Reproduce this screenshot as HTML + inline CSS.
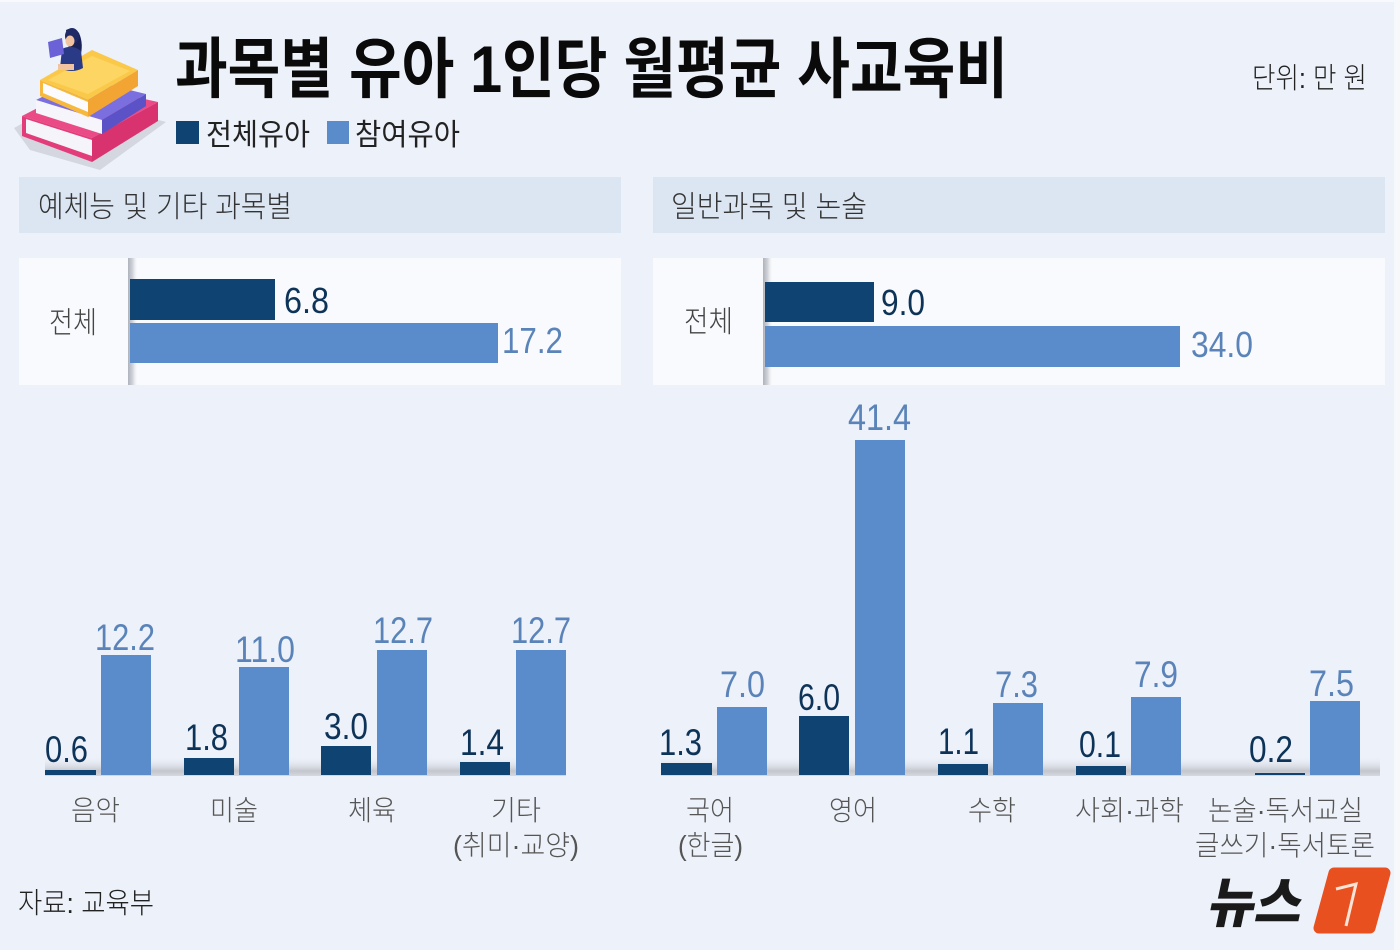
<!DOCTYPE html>
<html><head><meta charset="utf-8">
<style>
html,body{margin:0;padding:0;background:#edf1f9;}
svg{display:block;}
.k{font-family:"Liberation Sans","Noto Sans CJK KR",sans-serif;}
.kl{font-family:"Liberation Sans","Noto Sans CJK KR",sans-serif;font-weight:300;}
.n{font-family:"Liberation Sans","DejaVu Sans",sans-serif;}
</style></head>
<body>
<svg width="1400" height="950" viewBox="0 0 1400 950" xmlns="http://www.w3.org/2000/svg">
<defs>
<linearGradient id="ax" x1="0" y1="0" x2="1" y2="0">
<stop offset="0" stop-color="#aeb2ba"/><stop offset="0.5" stop-color="#d4d7dd"/><stop offset="1" stop-color="#f8fafd" stop-opacity="0"/>
</linearGradient>
<linearGradient id="bs" x1="0" y1="0" x2="0" y2="1">
<stop offset="0" stop-color="#edf1f9" stop-opacity="0"/><stop offset="0.75" stop-color="#c3c6cd"/><stop offset="1" stop-color="#d6d9df"/>
</linearGradient>
</defs>
<rect x="0" y="0" width="1400" height="950" fill="#edf1f9"/>
<rect x="0" y="0" width="1400" height="2" fill="#f8f9fc"/>
<rect x="1394" y="0" width="6" height="950" fill="#f6f8fc"/>

<!-- book icon -->
<g>
<polygon points="14,128 72,96 166,122 100,170 30,150" fill="#d4d7df"/>
<polygon points="22,116 82,85 158,102 92,138" fill="#ea4b86"/>
<polygon points="22,116 92,138 92,162 22,136" fill="#e23d7a"/>
<polygon points="26,119 92,140 92,156 26,133" fill="#f4f4fa"/>
<polygon points="92,138 158,102 158,121 92,162" fill="#d8336e"/>
<polygon points="36,100 80,78 146,94 102,120" fill="#7b6fe0"/>
<polygon points="36,100 102,120 102,134 36,113" fill="#f5f5fb"/>
<polygon points="102,120 146,94 146,106 102,134" fill="#5a52c6"/>
<polygon points="40,80 92,50 138,70 88,100" fill="#fbc94a"/>
<polygon points="48,80 92,56 130,71 88,94" fill="#fdd562"/>
<polygon points="40,80 88,100 88,117 40,96" fill="#f6b93e"/>
<polygon points="43,83 88,102 88,112 43,93" fill="#fbfbfd"/>
<polygon points="88,100 138,70 138,86 88,117" fill="#f3a534"/>
<!-- girl -->
<path d="M66,30 Q74,26 79,33 Q84,44 80,58 L70,56 Z" fill="#1a2358"/>
<ellipse cx="72" cy="36" rx="7" ry="8" fill="#1f2a66"/>
<ellipse cx="70" cy="41" rx="4.5" ry="5.5" fill="#f2c3a1"/>
<path d="M62,49 Q72,44 81,51 L83,68 Q72,74 60,68 Z" fill="#2b3a86"/>
<polygon points="48,42 62,38 64,54 50,58" fill="#6b62d8"/>
<rect x="58" y="64" width="16" height="6" fill="#f2c3a1"/>
</g>

<!-- title -->
<text class="k" x="175" y="92" font-size="66" font-weight="700" fill="#0a0a0a" textLength="833" lengthAdjust="spacingAndGlyphs">과목별 유아 1인당 월평균 사교육비</text>
<text class="kl" x="1252" y="88" font-size="29" fill="#222" textLength="115" lengthAdjust="spacingAndGlyphs">단위: 만 원</text>

<!-- legend -->
<rect x="176" y="121" width="23" height="23" fill="#0e4372"/>
<text class="k" x="206" y="145" font-size="30" fill="#222" textLength="104" lengthAdjust="spacingAndGlyphs">전체유아</text>
<rect x="327" y="121" width="22" height="23" fill="#5a8ccc"/>
<text class="k" x="355" y="145" font-size="30" fill="#222" textLength="105" lengthAdjust="spacingAndGlyphs">참여유아</text>

<!-- section headers -->
<rect x="19" y="177" width="602" height="56" fill="#dce6f3"/>
<text class="kl" x="38" y="217" font-size="30" fill="#333" textLength="254" lengthAdjust="spacingAndGlyphs">예체능 및 기타 과목별</text>
<rect x="653" y="177" width="732" height="56" fill="#dce6f3"/>
<text class="kl" x="671" y="217" font-size="30" fill="#333" textLength="196" lengthAdjust="spacingAndGlyphs">일반과목 및 논술</text>

<!-- top panels -->
<rect x="19" y="258" width="602" height="127" fill="#f8fafd"/>
<rect x="128" y="258" width="10" height="127" fill="url(#ax)"/>
<text class="kl" x="49" y="333" font-size="30" fill="#444" textLength="48" lengthAdjust="spacingAndGlyphs">전체</text>
<rect x="130" y="279" width="145" height="41" fill="#0e4372"/>
<rect x="130" y="323" width="368" height="40" fill="#5a8ccc"/>
<text class="n" x="284" y="313" font-size="36" fill="#0d3358" textLength="45" lengthAdjust="spacingAndGlyphs">6.8</text>
<text class="n" x="502" y="353" font-size="36" fill="#5a84b9" textLength="61" lengthAdjust="spacingAndGlyphs">17.2</text>

<rect x="653" y="258" width="732" height="127" fill="#f8fafd"/>
<rect x="763" y="258" width="10" height="127" fill="url(#ax)"/>
<text class="kl" x="684" y="332" font-size="30" fill="#444" textLength="49" lengthAdjust="spacingAndGlyphs">전체</text>
<rect x="765" y="282" width="109" height="40" fill="#0e4372"/>
<rect x="765" y="326" width="415" height="41" fill="#5a8ccc"/>
<text class="n" x="881" y="315" font-size="36" fill="#0d3358" textLength="44" lengthAdjust="spacingAndGlyphs">9.0</text>
<text class="n" x="1191" y="357" font-size="36" fill="#5a84b9" textLength="62" lengthAdjust="spacingAndGlyphs">34.0</text>

<!-- baseline shadows -->
<rect x="45" y="756" width="521" height="20" fill="url(#bs)"/>
<rect x="661" y="756" width="719" height="20" fill="url(#bs)"/>

<!-- left bottom bars -->
<g fill="#0e4372">
<rect x="45" y="770" width="51" height="5"/>
<rect x="184" y="758" width="50" height="17"/>
<rect x="321" y="746" width="50" height="29"/>
<rect x="460" y="762" width="50" height="13"/>
</g>
<g fill="#5a8ccc">
<rect x="101" y="655" width="50" height="120"/>
<rect x="239" y="667" width="50" height="108"/>
<rect x="377" y="650" width="50" height="125"/>
<rect x="516" y="650" width="50" height="125"/>
</g>
<!-- right bottom bars -->
<g fill="#0e4372">
<rect x="661" y="763" width="51" height="12"/>
<rect x="799" y="716" width="50" height="59"/>
<rect x="938" y="764" width="50" height="11"/>
<rect x="1076" y="766" width="50" height="9"/>
<rect x="1255" y="773" width="50" height="2"/>
</g>
<g fill="#5a8ccc">
<rect x="717" y="707" width="50" height="68"/>
<rect x="855" y="440" width="50" height="335"/>
<rect x="993" y="703" width="50" height="72"/>
<rect x="1131" y="697" width="50" height="78"/>
<rect x="1310" y="701" width="50" height="74"/>
</g>

<!-- value labels -->
<g class="n" font-size="37">
<text x="45" y="762" fill="#0d3358" textLength="43" lengthAdjust="spacingAndGlyphs">0.6</text>
<text x="95" y="650" fill="#5a84b9" textLength="60" lengthAdjust="spacingAndGlyphs">12.2</text>
<text x="185" y="750" fill="#0d3358" textLength="43" lengthAdjust="spacingAndGlyphs">1.8</text>
<text x="235" y="662" fill="#5a84b9" textLength="60" lengthAdjust="spacingAndGlyphs">11.0</text>
<text x="324" y="739" fill="#0d3358" textLength="44" lengthAdjust="spacingAndGlyphs">3.0</text>
<text x="373" y="643" fill="#5a84b9" textLength="60" lengthAdjust="spacingAndGlyphs">12.7</text>
<text x="460" y="755" fill="#0d3358" textLength="44" lengthAdjust="spacingAndGlyphs">1.4</text>
<text x="511" y="643" fill="#5a84b9" textLength="60" lengthAdjust="spacingAndGlyphs">12.7</text>

<text x="659" y="755" fill="#0d3358" textLength="43" lengthAdjust="spacingAndGlyphs">1.3</text>
<text x="720" y="697" fill="#5a84b9" textLength="45" lengthAdjust="spacingAndGlyphs">7.0</text>
<text x="798" y="710" fill="#0d3358" textLength="42" lengthAdjust="spacingAndGlyphs">6.0</text>
<text x="848" y="430" fill="#5a84b9" textLength="63" lengthAdjust="spacingAndGlyphs">41.4</text>
<text x="938" y="754" fill="#0d3358" textLength="41" lengthAdjust="spacingAndGlyphs">1.1</text>
<text x="995" y="697" fill="#5a84b9" textLength="43" lengthAdjust="spacingAndGlyphs">7.3</text>
<text x="1079" y="757" fill="#0d3358" textLength="42" lengthAdjust="spacingAndGlyphs">0.1</text>
<text x="1134" y="687" fill="#5a84b9" textLength="44" lengthAdjust="spacingAndGlyphs">7.9</text>
<text x="1249" y="762" fill="#0d3358" textLength="44" lengthAdjust="spacingAndGlyphs">0.2</text>
<text x="1309" y="696" fill="#5a84b9" textLength="45" lengthAdjust="spacingAndGlyphs">7.5</text>
</g>

<!-- category labels -->
<g class="kl" font-size="28" fill="#555" text-anchor="middle">
<text x="95.5" y="820" textLength="49" lengthAdjust="spacingAndGlyphs">음악</text>
<text x="234" y="820" textLength="48" lengthAdjust="spacingAndGlyphs">미술</text>
<text x="372" y="820" textLength="48" lengthAdjust="spacingAndGlyphs">체육</text>
<text x="516" y="820" textLength="50" lengthAdjust="spacingAndGlyphs">기타</text>
<text x="516" y="855" textLength="126" lengthAdjust="spacingAndGlyphs">(취미·교양)</text>
<text x="710" y="820" textLength="48" lengthAdjust="spacingAndGlyphs">국어</text>
<text x="710.5" y="855" textLength="65" lengthAdjust="spacingAndGlyphs">(한글)</text>
<text x="853" y="820" textLength="48" lengthAdjust="spacingAndGlyphs">영어</text>
<text x="992" y="820" textLength="48" lengthAdjust="spacingAndGlyphs">수학</text>
<text x="1129.5" y="820" textLength="109" lengthAdjust="spacingAndGlyphs">사회·과학</text>
<text x="1285.5" y="820" textLength="155" lengthAdjust="spacingAndGlyphs">논술·독서교실</text>
<text x="1285" y="855" textLength="180" lengthAdjust="spacingAndGlyphs">글쓰기·독서토론</text>
</g>

<!-- source -->
<text class="kl" x="18" y="913" font-size="29" fill="#222" textLength="136" lengthAdjust="spacingAndGlyphs">자료: 교육부</text>

<!-- logo -->
<g transform="translate(1206,922) skewX(-12)">
<text class="k" x="0" y="0" font-size="54" font-weight="900" fill="#1a1a1a" textLength="94" lengthAdjust="spacingAndGlyphs">뉴스</text>
</g>
<polygon points="1334,873 1385,873 1370,928 1319,928" fill="#e8501f" stroke="#e8501f" stroke-width="11" stroke-linejoin="round"/>
<path d="M1336,889 L1356,884 L1346,926" fill="none" stroke="#fbe3d8" stroke-width="3"/>
</svg>
</body></html>
